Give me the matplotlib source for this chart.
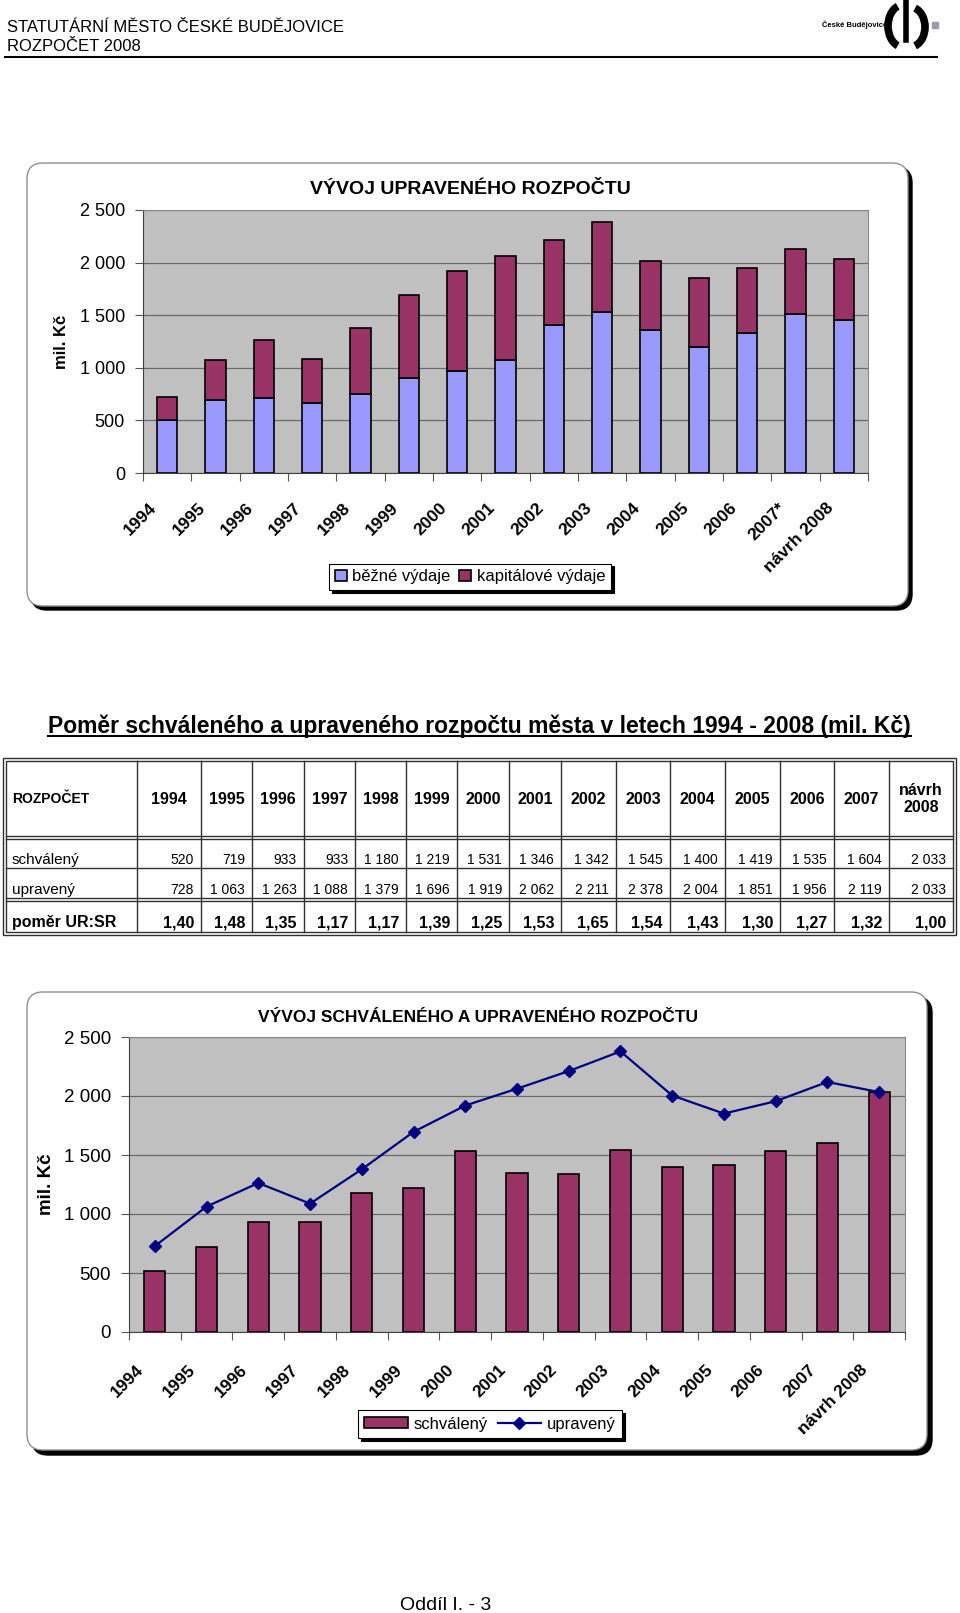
import matplotlib
matplotlib.use('Agg')
import matplotlib.pyplot as plt
import matplotlib.patches as mpatches
from matplotlib.ticker import FuncFormatter, MultipleLocator
from matplotlib.transforms import offset_copy

plt.rcParams['font.family'] = ['Liberation Sans', 'DejaVu Sans']

W, H = 960, 1613

# -- data: graf 1 (upraveny rozpocet, rozdeleni) --
roky_g1 = ['1994', '1995', '1996', '1997', '1998', '1999', '2000', '2001',
           '2002', '2003', '2004', '2005', '2006', '2007*', 'návrh 2008']
bezne = [506, 696, 712, 665, 750, 899, 968, 1070, 1405, 1529, 1358, 1200, 1332, 1516, 1459]
kapitalove = [219, 377, 548, 421, 624, 794, 956, 997, 807, 857, 655, 655, 621, 611, 579]

# -- data: tabulka + graf 2 --
roky_tab = ['1994', '1995', '1996', '1997', '1998', '1999', '2000', '2001',
            '2002', '2003', '2004', '2005', '2006', '2007', 'návrh\n2008']
roky_g2 = ['1994', '1995', '1996', '1997', '1998', '1999', '2000', '2001',
           '2002', '2003', '2004', '2005', '2006', '2007', 'návrh 2008']
schvaleny = [520, 719, 933, 933, 1180, 1219, 1531, 1346, 1342, 1545, 1400, 1419, 1535, 1604, 2033]
upraveny = [728, 1063, 1263, 1088, 1379, 1696, 1919, 2062, 2211, 2378, 2004, 1851, 1956, 2119, 2033]

C_BEZNE = '#9999FF'
C_KAP = '#993366'
C_LINE = '#000080'
C_PLOT = '#C0C0C0'


def tis(v, pos=None):
    return f'{v:,.0f}'.replace(',', ' ')


fig = plt.figure(figsize=(W / 100, H / 100), dpi=100)
bg = fig.add_axes([0, 0, 1, 1], zorder=0)
bg.set_xlim(0, W)
bg.set_ylim(H, 0)
bg.axis('off')


def px_axes(x0, y0, x1, y1):
    return fig.add_axes([x0 / W, 1 - y1 / H, (x1 - x0) / W, (y1 - y0) / H], zorder=2)


def chart_box(x0, y0, x1, y1, sh):
    st = 'round,pad=0,rounding_size=16'
    bg.add_patch(mpatches.FancyBboxPatch((x0 + sh, y0 + sh), x1 - x0, y1 - y0,
                                         boxstyle=st, fc='black', ec='black', lw=1))
    bg.add_patch(mpatches.FancyBboxPatch((x0, y0), x1 - x0, y1 - y0,
                                         boxstyle=st, fc='white', ec='#909090', lw=1))


def style_axes(ax, n, ysize, yl_x, ylab_size):
    ax.set_facecolor(C_PLOT)
    ax.set_xlim(-0.5, n - 0.5)
    ax.set_ylim(0, 2500)
    ax.yaxis.set_major_locator(MultipleLocator(500))
    ax.yaxis.set_major_formatter(FuncFormatter(tis))
    ax.grid(axis='y', color='#6a6a6a', lw=0.9)
    ax.set_axisbelow(True)
    ax.set_xticks([i - 0.5 for i in range(n + 1)])
    ax.set_xticklabels([])
    ax.tick_params(axis='x', length=6, color='#555555', direction='out')
    ax.tick_params(axis='y', length=6, color='#555555', labelsize=ysize, pad=7)
    for s in ['top', 'right']:
        ax.spines[s].set_color('#8a8a8a')
    for s in ['left', 'bottom']:
        ax.spines[s].set_color('#404040')
    ax.set_ylabel('mil. Kč', fontsize=ylab_size, fontweight='bold')
    ax.yaxis.set_label_coords(yl_x, 0.5)


def x_labels(ax, labels, dx, dy, size):
    tr = offset_copy(ax.get_xaxis_transform(), fig=fig, x=dx, y=dy, units='dots')
    for i, lab in enumerate(labels):
        ax.text(i, 0, lab, transform=tr, rotation=45, rotation_mode='anchor',
                ha='right', va='top', fontsize=size, fontweight='bold', clip_on=False)


# ---- page header ----
bg.text(7, 32, 'STATUTÁRNÍ MĚSTO ČESKÉ BUDĚJOVICE', fontsize=12, va='baseline')
bg.text(7, 51, 'ROZPOČET 2008', fontsize=12, va='baseline')
bg.plot([5, 937], [57, 57], color='black', lw=1.5)
bg.text(855, 25, 'České Budějovice', fontsize=5.5, fontweight='bold', ha='center', va='center')
bg.add_patch(mpatches.Arc((903, 26), 30, 42, theta1=105, theta2=255, lw=5.5, color='black'))
bg.add_patch(mpatches.Arc((910, 27), 30, 40, theta1=-75, theta2=75, lw=5.5, color='black'))
bg.plot([906, 906], [1, 40], color='black', lw=4)
bg.add_patch(mpatches.Rectangle((932, 22), 6, 6, color='#9a9aaa'))

# ---- graf 1 ----
chart_box(27, 163, 908, 606, 4)
bg.text(470, 189, 'VÝVOJ UPRAVENÉHO ROZPOČTU', fontsize=14, fontweight='bold',
        ha='center', va='center')
ax1 = px_axes(143, 210, 868, 473)
x1 = list(range(len(roky_g1)))
ax1.bar(x1, bezne, 0.42, color=C_BEZNE, edgecolor='black', lw=1.2,
        label='běžné výdaje', zorder=3)
ax1.bar(x1, kapitalove, 0.42, bottom=bezne, color=C_KAP, edgecolor='black', lw=1.2,
        label='kapitálové výdaje', zorder=3)
style_axes(ax1, len(roky_g1), 13, -0.102, 12)
x_labels(ax1, roky_g1, -18, -27, 12.5)
leg1 = ax1.legend(loc='center', bbox_to_anchor=(470 / W, 1 - 577 / H),
                  bbox_transform=fig.transFigure, ncol=2, fontsize=12,
                  handlelength=0.7, handleheight=0.7, handletextpad=0.35,
                  columnspacing=0.5, borderpad=0.35, fancybox=False,
                  framealpha=1, edgecolor='black',
                  shadow={'color': 'black', 'alpha': 1})
leg1.get_frame().set_linewidth(0.8)

# ---- tabulka ----
nadpis = bg.text(48, 733, 'Poměr schváleného a upraveného rozpočtu města v letech 1994 - 2008 (mil. Kč)',
                 fontsize=16.5, fontweight='bold', va='baseline', ha='left')
fig.canvas.draw()
bb = nadpis.get_window_extent().transformed(bg.transData.inverted())
bg.plot([bb.x0, bb.x1], [736, 736], color='black', lw=1.5)

col_x = [6, 137, 201, 252, 304, 355, 406, 457, 509, 561, 616, 670, 725, 780, 834, 889, 953]
T_L, T_R, T_T, T_B = 3, 956, 758, 935
g = 3
lc = '#303030'
bg.add_patch(mpatches.Rectangle((T_L, T_T), T_R - T_L, T_B - T_T, fill=False, ec=lc, lw=1))
bg.add_patch(mpatches.Rectangle((T_L + g, T_T + g), T_R - T_L - 2 * g, T_B - T_T - 2 * g,
                                fill=False, ec=lc, lw=1))
for yy in [836, 839, 898, 901]:
    bg.plot([T_L + g, T_R - g], [yy, yy], color=lc, lw=1)
bg.plot([T_L + g, T_R - g], [868, 868], color=lc, lw=1)
for xx in col_x[1:-1]:
    bg.plot([xx, xx], [T_T + g, T_B - g], color=lc, lw=1)

bg.text(12, 799, 'ROZPOČET', fontsize=10, fontweight='bold', va='center')
bg.text(12, 864, 'schválený', fontsize=11, va='baseline')
bg.text(12, 894, 'upravený', fontsize=11, va='baseline')
bg.text(12, 927, 'poměr UR:SR', fontsize=11.5, fontweight='bold', va='baseline')
for i, rok in enumerate(roky_tab):
    xl, xr = col_x[i + 1], col_x[i + 2]
    bg.text((xl + xr) / 2, 799, rok, fontsize=11.5, fontweight='bold',
            ha='center', va='center', linespacing=1.15)
    bg.text(xr - 7, 864, tis(schvaleny[i]), fontsize=10, ha='right', va='baseline')
    bg.text(xr - 7, 894, tis(upraveny[i]), fontsize=10, ha='right', va='baseline')
    pomer = f'{upraveny[i] / schvaleny[i]:.2f}'.replace('.', ',')
    bg.text(xr - 7, 927, pomer, fontsize=11.5, fontweight='bold', ha='right', va='baseline')

# ---- graf 2 ----
chart_box(27, 992, 927, 1450, 5)
bg.text(478, 1018, 'VÝVOJ SCHVÁLENÉHO A UPRAVENÉHO ROZPOČTU', fontsize=12.5,
        fontweight='bold', ha='center', va='center')
ax2 = px_axes(129, 1037, 905, 1332)
x2 = list(range(len(roky_g2)))
b2 = ax2.bar(x2, schvaleny, 0.41, color=C_KAP, edgecolor='black', lw=1.2,
             label='schválený', zorder=3)
l2, = ax2.plot(x2, upraveny, color=C_LINE, lw=1.6, marker='D', markersize=6.5,
               label='upravený', zorder=4)
style_axes(ax2, len(roky_g2), 13.5, -0.095, 13.5)
x_labels(ax2, roky_g2, -19, -30, 12.5)
leg2 = ax2.legend(handles=[b2, l2], loc='center', bbox_to_anchor=(490 / W, 1 - 1424 / H),
                  bbox_transform=fig.transFigure, ncol=2, fontsize=12,
                  handlelength=2.6, handleheight=0.6, handletextpad=0.35,
                  columnspacing=0.6, borderpad=0.4, fancybox=False,
                  framealpha=1, edgecolor='black',
                  shadow={'color': 'black', 'alpha': 1})
leg2.get_frame().set_linewidth(0.8)

# ---- paticka ----
bg.text(446, 1605, 'Oddíl I. - 3', fontsize=14, ha='center', va='center')

plt.savefig('out.png', dpi=100)
